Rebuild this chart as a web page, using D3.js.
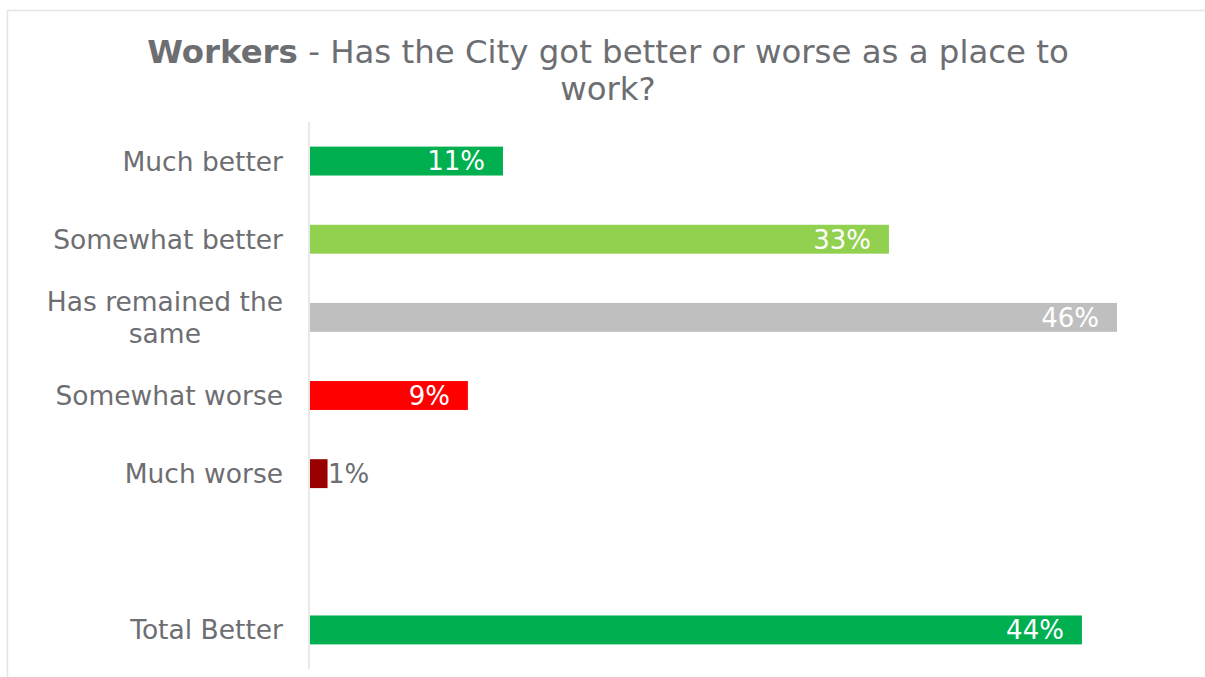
<!DOCTYPE html>
<html>
<head>
<meta charset="utf-8">
<script src="https://cdn.jsdelivr.net/npm/d3@7"></script>
<style>
  html, body { margin: 0; padding: 0; background: #ffffff; }
  svg { display: block; }
</style>
</head>
<body>
<svg id="chart" width="1205" height="677"></svg>
<script>
const categories = ["Much better", "Somewhat better", "Has remained the same", "Somewhat worse", "Much worse", "", "Total Better"];
const categoryLines = [["Much better"], ["Somewhat better"], ["Has remained the", "same"], ["Somewhat worse"], ["Much worse"], [], ["Total Better"]];
const values = [11, 33, 46, 9, 1, null, 44];
const barColors = ["#00b050", "#92d050", "#bfbfbf", "#ff0000", "#990000", "#ffffff", "#00b050"];
const labelInside = [true, true, true, true, false, false, true];
const titleBold = "Workers";
const titleRest = " - Has the City got better or worse as a place to";
const titleLine2 = "work?";

const textColor = "#6d6e72";
const font = "'DejaVu Sans', Verdana, sans-serif";
const svg = d3.select("#chart");

// chart border
svg.append("rect")
  .attr("x", 7.5).attr("y", 10.5)
  .attr("width", 1220).attr("height", 700)
  .attr("fill", "none").attr("stroke", "#e4e4e4").attr("stroke-width", 1.5);

// title
const titleFs = 32.4;
const title = svg.append("text")
  .attr("x", 608).attr("y", 63)
  .attr("text-anchor", "middle")
  .attr("font-family", font).attr("font-size", titleFs)
  .attr("fill", textColor);
title.append("tspan").attr("font-weight", "bold").text(titleBold);
title.append("tspan").text(titleRest);
svg.append("text")
  .attr("x", 608).attr("y", 100)
  .attr("text-anchor", "middle")
  .attr("font-family", font).attr("font-size", titleFs)
  .attr("fill", textColor)
  .text(titleLine2);

const x = d3.scaleLinear().domain([0, 46]).range([310, 1117]);
const y = d3.scaleBand()
  .domain(categories.map((c, i) => i))
  .range([122, 669])
  .paddingInner(0.63)
  .paddingOuter(0.315);

// bars
svg.append("g").selectAll("rect")
  .data(values.map((v, i) => ({ v, i })).filter(d => d.v != null))
  .join("rect")
  .attr("x", x(0))
  .attr("y", d => y(d.i))
  .attr("width", d => x(d.v) - x(0))
  .attr("height", y.bandwidth())
  .attr("fill", d => barColors[d.i]);

// axis line
svg.append("line")
  .attr("x1", 309).attr("x2", 309)
  .attr("y1", 122).attr("y2", 669)
  .attr("stroke", "#e2e2e2").attr("stroke-width", 1.5);

// category labels
const fs = 26.5;
const lineH = 31.5;
categoryLines.forEach((lines, i) => {
  if (!lines.length) return;
  const cy = y(i) + y.bandwidth() / 2;
  const n = lines.length;
  const t = svg.append("text")
    .attr("font-family", font).attr("font-size", fs)
    .attr("fill", textColor);
  if (n === 1) {
    t.attr("x", 283).attr("y", cy + fs * 0.36).attr("text-anchor", "end").text(lines[0]);
  } else {
    const tmp = svg.append("text").attr("font-family", font).attr("font-size", fs).text(lines[0]);
    const w = tmp.node().getComputedTextLength();
    tmp.remove();
    const cx = 283 - w / 2;
    lines.forEach((ln, k) => {
      t.append("tspan")
        .attr("x", cx)
        .attr("y", cy + fs * 0.36 + (k - (n - 1) / 2) * lineH)
        .attr("text-anchor", "middle")
        .text(ln);
    });
  }
});

// value labels
const vfs = 26;
svg.append("g").selectAll("text")
  .data(values.map((v, i) => ({ v, i })).filter(d => d.v != null))
  .join("text")
  .attr("font-family", font).attr("font-size", vfs)
  .attr("x", d => labelInside[d.i] ? x(d.v) - 18 : x(d.v) + 0.5)
  .attr("y", d => y(d.i) + y.bandwidth() / 2 + vfs * 0.36)
  .attr("text-anchor", d => labelInside[d.i] ? "end" : "start")
  .attr("fill", d => labelInside[d.i] ? "#ffffff" : textColor)
  .text(d => d.v + "%");
</script>
</body>
</html>
